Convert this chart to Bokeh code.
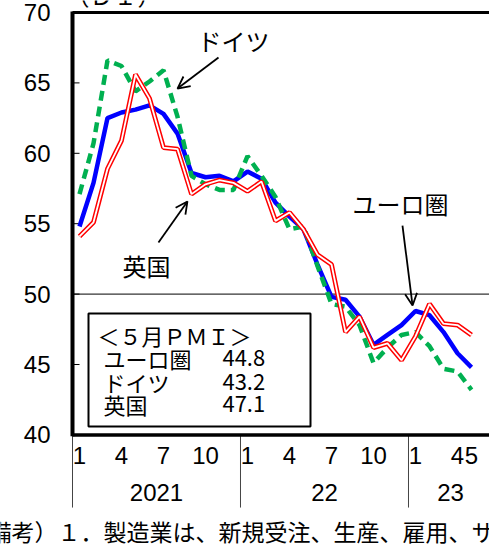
from bokeh.plotting import figure
from bokeh.models import Label, Arrow, OpenHead, ColumnDataSource
from bokeh.core.properties import value
from bokeh.embed import file_html
from bokeh.resources import INLINE

# ---- data (2021-01 .. 2023-05, monthly manufacturing PMI) ----
month_index = list(range(29))
euro = [54.8, 57.9, 62.5, 62.9, 63.1, 63.4, 62.8, 61.4, 58.6, 58.3, 58.4, 58.0,
        58.7, 58.2, 56.5, 55.5, 54.6, 52.1, 49.8, 49.6, 48.4, 46.4, 47.1, 47.8,
        48.8, 48.5, 47.3, 45.8, 44.8]
germany = [57.1, 60.7, 66.6, 66.2, 64.4, 65.1, 65.9, 62.6, 58.4, 57.8, 57.4, 57.4,
           59.8, 58.4, 56.9, 54.6, 54.8, 52.0, 49.3, 49.1, 47.8, 45.1, 46.2, 47.1,
           47.3, 46.3, 44.7, 44.5, 43.2]
uk = [54.1, 55.1, 58.9, 60.9, 65.6, 63.9, 60.4, 60.3, 57.1, 57.8, 58.1, 57.9,
      57.3, 58.0, 55.2, 55.8, 54.6, 52.8, 52.1, 47.3, 48.4, 46.2, 46.5, 45.3,
      47.0, 49.3, 47.9, 47.8, 47.1]

y_ticks = [40, 45, 50, 55, 60, 65, 70]
y_tick_labels = ["40", "45", "50", "55", "60", "65", "70"]
inner_ticks = [45, 50, 55, 60, 65]
month_tick_pos = [0, 3, 6, 9, 12, 15, 18, 21, 24, 27, 28]
month_tick_labels = ["1", "4", "7", "10", "1", "4", "7", "10", "1", "4", "5"]
year_pos = [5.5, 17.5, 26.5]
year_labels = ["2021", "22", "23"]
year_sep = [-0.5, 11.5, 23.5]

legend_names = ["ユーロ圏", "ドイツ", "英国"]
legend_values = ["44.8", "43.2", "47.1"]

NUM = "Liberation Sans"
JP = "Noto Sans CJK JP"

p = figure(width=489, height=546, output_backend="svg", toolbar_location=None,
           x_range=(-5.643, 29.286), y_range=(32.074, 70.852),
           x_axis_location=None, y_axis_location=None,
           min_border_left=0, min_border_right=0, min_border_top=0, min_border_bottom=0)
p.outline_line_color = None
p.grid.visible = False
p.background_fill_color = "white"
p.border_fill_color = "white"

# frame lines
p.segment(x0=[-0.5], y0=[50], x1=[29.4], y1=[50], line_color="black", line_width=1)
p.segment(x0=[-0.5] * len(inner_ticks), y0=inner_ticks, x1=[0.0] * len(inner_ticks),
          y1=inner_ticks, line_color="black", line_width=1)
p.segment(x0=year_sep, y0=[40] * 3, x1=year_sep, y1=[34.84] * 3,
          line_color="#444444", line_width=1)
p.segment(x0=[-0.5], y0=[70], x1=[29.4], y1=[70], line_color="black", line_width=3)
p.segment(x0=[-0.5], y0=[40], x1=[29.4], y1=[40], line_color="black", line_width=3.5)
p.segment(x0=[-0.5], y0=[39.9], x1=[-0.5], y1=[70.07], line_color="black", line_width=4)

# y tick labels
p.text(x=[-2.07] * len(y_ticks), y=y_ticks, text=y_tick_labels,
       text_font=value(NUM), text_font_size="24px", text_align="right",
       text_baseline="middle", text_color="black")

# series
src = ColumnDataSource(dict(x=month_index, euro=euro, de=germany, uk=uk))
p.line("x", "euro", source=src, line_color="#0000FF", line_width=4.5)
p.line("x", "de", source=src, line_color="#00B050", line_width=4.5, line_dash="10 6")
p.line("x", "uk", source=src, line_color="#FF0000", line_width=4.8)
p.line("x", "uk", source=src, line_color="white", line_width=1.8)

# month / year labels
p.text(x=month_tick_pos, y=[38.54] * len(month_tick_pos), text=month_tick_labels,
       text_font=value(NUM), text_font_size="24px", text_align="center",
       text_baseline="middle", text_color="black")
p.text(x=year_pos, y=[35.91] * 3, text=year_labels,
       text_font=value(NUM), text_font_size="24px", text_align="center",
       text_baseline="middle", text_color="black")

# legend box
p.quad(left=[0.643], right=[16.5], bottom=[40.6], top=[48.62],
       fill_color="white", line_color="black", line_width=2)
p.add_layout(Label(x=1.29, y=47.06, text="＜５月ＰＭＩ＞", text_font=JP,
                   text_font_size="22px", text_baseline="middle", text_color="black"))
for i, (nm, val) in enumerate(zip(legend_names, legend_values)):
    yy = [45.43, 43.79, 42.23][i]
    p.add_layout(Label(x=1.71, y=yy, text=nm, text_font=JP,
                       text_font_size="22px", text_baseline="middle", text_color="black"))
    p.add_layout(Label(x=10.21, y=yy, text=val, text_font=JP,
                       text_font_size="22px", text_baseline="middle", text_color="black"))

# series annotations
p.add_layout(Label(x=8.43, y=68.01, text="ドイツ", text_font=JP,
                   text_font_size="24px", text_baseline="middle", text_color="black"))
p.add_layout(Label(x=3.07, y=52.03, text="英国", text_font=JP,
                   text_font_size="24px", text_baseline="middle", text_color="black"))
p.add_layout(Label(x=19.5, y=56.43, text="ユーロ圏", text_font=JP,
                   text_font_size="24px", text_baseline="middle", text_color="black"))

for xs, ys, xe, ye in [(9.93, 66.80, 7.0, 64.60), (5.64, 53.67, 7.71, 56.58),
                       (23.07, 54.87, 23.79, 49.19)]:
    p.add_layout(Arrow(end=OpenHead(size=12, line_width=1.8, line_color="black"),
                       x_start=xs, y_start=ys, x_end=xe, y_end=ye,
                       line_width=1.8, line_color="black"))

# header and note
p.add_layout(Label(x=-1.0, y=70.07, text="（ＤＩ）", text_font=JP,
                   text_font_size="24px", text_baseline="bottom", text_color="black"))
p.add_layout(Label(x=-8.14, y=33.14, text="（備考）１．製造業は、新規受注、生産、雇用、サ",
                   text_font=JP, text_font_size="23px", text_baseline="middle",
                   text_color="black"))

open("out.html", "w").write(file_html(p, INLINE))
